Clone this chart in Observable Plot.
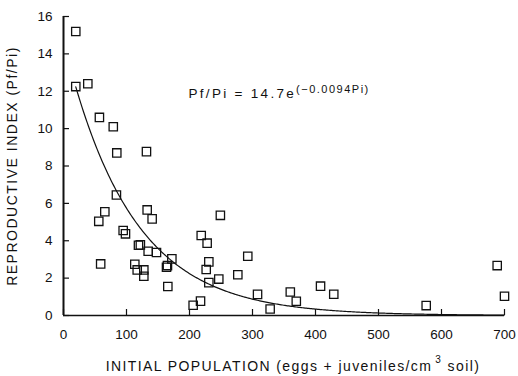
<!DOCTYPE html>
<html>
<head>
<meta charset="utf-8">
<script src="https://cdn.jsdelivr.net/npm/d3@7"></script>
<script src="https://cdn.jsdelivr.net/npm/@observablehq/plot@0.6"></script>
<style>
  html, body { margin: 0; padding: 0; background: #fff; }
  #chart svg { display: block; }
</style>
</head>
<body>
<div id="chart"></div>
<script>
// Initial population (eggs + juveniles / cm3 soil)
const initialPop = [19.5, 19.5, 38.6, 57, 79, 84.6, 131.7, 84, 59, 56, 65.6, 94.7, 98.4, 132.8, 140.7,
  119, 122, 134.4, 147.6, 113.2, 117, 127.5, 127.5, 163.5, 165, 172, 165.6, 205.8, 217.5,
  218.6, 228, 249, 230.7, 226.5, 230.7, 246.5, 276.7, 292.5, 308, 328, 360, 369.5, 408, 429,
  575.7, 688.4, 700];
// Reproductive index (Pf/Pi)
const reproIndex = [15.2, 12.25, 12.4, 10.6, 10.1, 8.7, 8.77, 6.45, 2.76, 5.04, 5.55, 4.55, 4.37, 5.65, 5.17,
  3.76, 3.78, 3.44, 3.37, 2.74, 2.44, 2.44, 2.1, 2.58, 2.67, 3.03, 1.55, 0.55, 0.77,
  4.28, 3.87, 5.36, 2.87, 2.46, 1.76, 1.95, 2.18, 3.17, 1.13, 0.35, 1.26, 0.76, 1.57, 1.14,
  0.53, 2.67, 1.03];

// Fitted model stated on the chart: Pf/Pi = 14.7 e^(-0.0094 Pi)
const fitA = 14.7;
const fitB = -0.0094;
const fitRange = [19.5, 700];

const xTicks = [0, 100, 200, 300, 400, 500, 600, 700];
const yTicks = [0, 2, 4, 6, 8, 10, 12, 14, 16];

const yTitle = "REPRODUCTIVE INDEX (Pf/Pi)";
const xTitleParts = ["INITIAL POPULATION (eggs + juveniles/cm", "3", " soil)"];
const eqParts = ["Pf/Pi = 14.7e", "(\u22120.0094Pi)"];

const points = initialPop.map((x, i) => ({x, y: reproIndex[i]}));
const curve = d3.range(fitRange[0], fitRange[1] + 0.001, 2).map(x => ({x, y: fitA * Math.exp(fitB * x)}));

const font = "'Liberation Sans', Arial, Helvetica, sans-serif";

const chart = Plot.plot({
  width: 518,
  height: 376,
  marginLeft: 63,
  marginRight: 14,
  marginTop: 16,
  marginBottom: 61,
  style: {fontFamily: font, fontSize: "13px", background: "#fff", color: "#111"},
  x: {domain: [0, 700]},
  y: {domain: [0, 16]},
  marks: [
    Plot.axisX({ticks: xTicks, tickSize: -6, fill: "none", label: null, strokeWidth: 1.2}),
    Plot.axisX({ticks: xTicks, tickSize: 0, tickPadding: 14, label: null, fontSize: 13.5}),
    Plot.axisY({ticks: yTicks, tickSize: -6, fill: "none", label: null, strokeWidth: 1.2}),
    Plot.axisY({ticks: yTicks, tickSize: 0, tickPadding: 11, label: null, fontSize: 13.5}),
    Plot.ruleY([0], {strokeWidth: 1.6}),
    Plot.ruleX([0], {strokeWidth: 2}),
    Plot.line(curve, {x: "x", y: "y", strokeWidth: 1.2, curve: "linear"}),
    Plot.dot(points, {x: "x", y: "y", symbol: "square", r: 4.7, stroke: "#111", fill: "none", strokeWidth: 1.3}),
    Plot.text([eqParts.join("")], {text: d => d, frameAnchor: "top-left", dx: 125, dy: 77, textAnchor: "start", lineAnchor: "middle", fontSize: 13.5}),
    Plot.text([xTitleParts.join("")], {text: d => d, frameAnchor: "bottom", dx: 9, dy: 51, lineAnchor: "middle", textAnchor: "middle", fontSize: 14}),
    Plot.text([yTitle], {text: d => d, frameAnchor: "left", dx: -51, rotate: -90, textAnchor: "middle", lineAnchor: "middle", fontSize: 14})
  ]
});

document.getElementById("chart").appendChild(chart);

const svg = d3.select(chart.tagName.toLowerCase() === "svg" ? chart : chart.querySelector("svg"));
svg.selectAll("text").each(function() {
  const t = d3.select(this);
  const content = this.textContent;
  if (content === eqParts.join("")) {
    t.text(null);
    t.append("tspan").attr("letter-spacing", 2.3).text(eqParts[0]);
    t.append("tspan").attr("dy", "-5").attr("letter-spacing", 1.5).attr("font-size", 11).text(eqParts[1]);
  } else if (content === xTitleParts.join("")) {
    t.attr("letter-spacing", 1.4).text(null);
    t.append("tspan").text(xTitleParts[0]);
    t.append("tspan").attr("dy", "-8").attr("dx", "3").attr("font-size", 10).text(xTitleParts[1]);
    t.append("tspan").attr("dy", "8").text(xTitleParts[2]);
  } else if (content === yTitle) {
    t.attr("letter-spacing", 1.5);
  }
});
</script>
</body>
</html>
